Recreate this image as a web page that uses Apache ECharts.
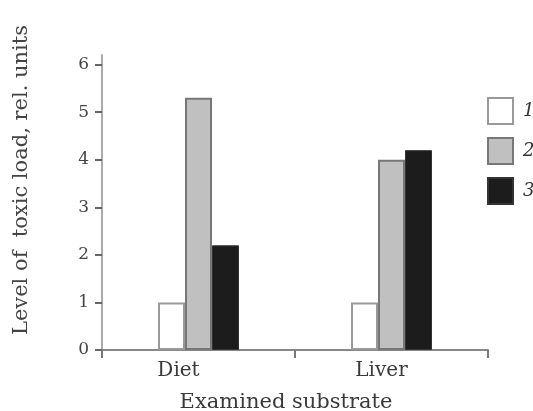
<!DOCTYPE html>
<html><head><meta charset="utf-8">
<script src="https://cdn.jsdelivr.net/npm/echarts@6/dist/echarts.min.js"></script>
<style>html,body{margin:0;padding:0;background:#fff}#c{width:533px;height:411px}</style>
</head><body><div id="c"></div>
<script>
var categories = ['Diet', 'Liver'];
var series1 = [1.0, 1.0];
var series2 = [5.3, 4.0];
var series3 = [2.2, 4.2];
var seriesNames = ['1', '2', '3'];
var yTicks = [0, 1, 2, 3, 4, 5, 6];
var yTitle = 'Level of  toxic load, rel. units';
var xTitle = 'Examined substrate';

var font = '"DejaVu Serif", "Liberation Serif", serif';
var chart = echarts.init(document.getElementById('c'), null, {renderer: 'canvas'});
chart.setOption({
  animation: false,
  backgroundColor: '#fff',
  grid: {left: 102, right: 45, top: 55, bottom: 61},
  legend: {
    orient: 'vertical', left: 487, top: 97, padding: 0,
    icon: 'rect',
    itemWidth: 25, itemHeight: 26, itemGap: 12,
    textStyle: {fontFamily: font, fontStyle: 'italic', fontSize: 18, color: '#333', padding: [0, 0, 0, 5]},
    data: seriesNames
  },
  xAxis: {
    type: 'category',
    data: [
      {value: categories[0], textStyle: {padding: [0, 40, 0, 0]}},
      {value: categories[1], textStyle: {padding: [0, 20, 0, 0]}}
    ],
    axisLine: {lineStyle: {color: '#888', width: 2}},
    axisTick: {show: true, length: 8, lineStyle: {color: '#777', width: 2}},
    axisLabel: {fontFamily: font, fontSize: 20, color: '#3a3a3a', margin: 11}
  },
  yAxis: {
    type: 'value', min: 0, max: 6.2,
    splitLine: {show: false},
    axisLine: {show: true, lineStyle: {color: '#aaa', width: 2}},
    axisTick: {show: true, length: 7, lineStyle: {color: '#666', width: 2}, customValues: yTicks},
    axisLabel: {fontFamily: font, fontSize: 17, color: '#444', margin: 13, customValues: yTicks}
  },
  graphic: [
    {type: 'text', rotation: Math.PI / 2, x: 22, y: 180,
     style: {text: yTitle, fontFamily: font, fontSize: 21, fill: '#444', align: 'center', verticalAlign: 'middle'}},
    {type: 'text', x: 286, y: 403,
     style: {text: xTitle, fontFamily: font, fontSize: 21, fill: '#3a3a3a', align: 'center', verticalAlign: 'middle'}}
  ],
  series: [
    {name: seriesNames[0], type: 'bar', data: series1, barWidth: 27, barGap: '0%',
     itemStyle: {color: '#ffffff', borderColor: '#999', borderWidth: 2}},
    {name: seriesNames[1], type: 'bar', data: series2, barWidth: 27, barGap: '0%',
     itemStyle: {color: '#c0c0c0', borderColor: '#777', borderWidth: 2}},
    {name: seriesNames[2], type: 'bar', data: series3, barWidth: 27, barGap: '0%',
     itemStyle: {color: '#1c1c1c', borderColor: '#333', borderWidth: 1}}
  ]
});
</script></body></html>
